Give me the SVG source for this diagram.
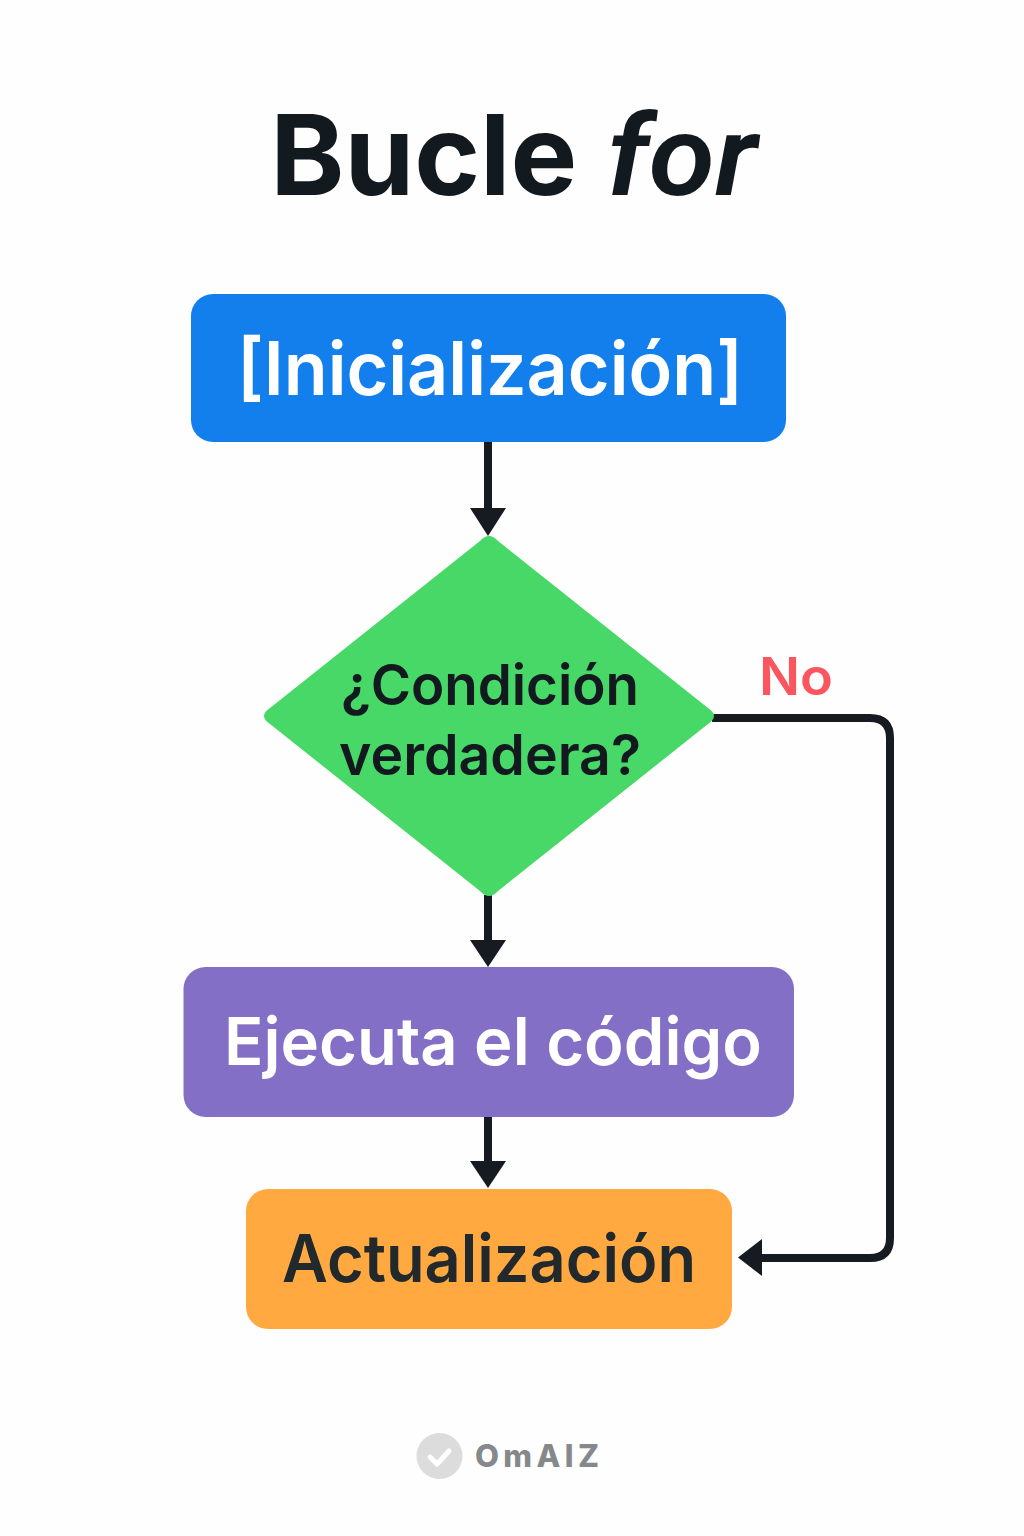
<svg xmlns="http://www.w3.org/2000/svg" width="1024" height="1536" viewBox="0 0 1024 1536">
<style>
text{font-family:Inter,"Liberation Sans",sans-serif;text-anchor:middle}
.conn{fill:none;stroke:#151b21;stroke-width:8}
.head{fill:#151b21}
</style>
<rect width="1024" height="1536" fill="#fefefe"/>
<text id="title" y="195" font-size="112" font-weight="700" fill="#121a20"><tspan x="437" textLength="307" lengthAdjust="spacingAndGlyphs">Bucle</tspan> <tspan x="682" font-style="italic" font-family="Roboto" font-weight="600" textLength="150" lengthAdjust="spacingAndGlyphs">for</tspan></text>
<g id="connectors">
<path class="conn" d="M488 441V510"/>
<path class="head" d="M470 508H506L488 536Z"/>
<path class="conn" d="M488 895V942"/>
<path class="head" d="M470 940H506L488 967Z"/>
<path class="conn" d="M488 1116V1164"/>
<path class="head" d="M470 1161H506L488 1188Z"/>
<path class="conn" d="M712 718H870Q890 718 890 738V1238Q890 1258 870 1258H760"/>
<path class="head" d="M762 1239V1276L738 1257.500Z"/>
</g>
<g id="init">
<rect x="191" y="294" width="595" height="148" rx="22" fill="#137fec"/>
<text x="490" y="395" font-size="74" font-weight="600" fill="#fff" textLength="506" lengthAdjust="spacingAndGlyphs">[Inicialización]</text>
</g>
<g id="cond">
<path d="M480 541Q489 531 498 541L708 708Q720 716 708 724L498 891Q489 901 480 891L270 724Q258 716 270 708Z" fill="#47d867"/>
<text x="490" y="705" font-size="56" font-weight="600" fill="#121a20" textLength="298" lengthAdjust="spacingAndGlyphs">¿Condición</text>
<text x="490" y="775" font-size="56" font-weight="600" fill="#121a20" textLength="302" lengthAdjust="spacingAndGlyphs">verdadera?</text>
</g>
<g id="body">
<rect x="183.500" y="967" width="610.500" height="150" rx="22" fill="#8370c6"/>
<text x="493" y="1065" font-size="66" font-weight="600" fill="#fff" textLength="538" lengthAdjust="spacingAndGlyphs">Ejecuta el código</text>
</g>
<g id="update">
<rect x="246" y="1189" width="486" height="140" rx="22" fill="#ffa940"/>
<text x="489" y="1282" font-size="66" font-weight="600" fill="#22292c" textLength="414" lengthAdjust="spacingAndGlyphs">Actualización</text>
</g>
<text id="no" x="796" y="695" font-size="52" font-weight="600" fill="#fb5660" textLength="74" lengthAdjust="spacingAndGlyphs">No</text>
<g id="logo">
<circle cx="439.500" cy="1456" r="23" fill="#dcdcdc"/>
<path d="M430 1457L437 1464L449 1451" fill="none" stroke="#fff" stroke-width="5" stroke-linecap="round" stroke-linejoin="round"/>
<text x="537" y="1467" font-size="31" font-weight="800" fill="#86898b" textLength="124" lengthAdjust="spacing">OmAlZ</text>
</g>
</svg>
